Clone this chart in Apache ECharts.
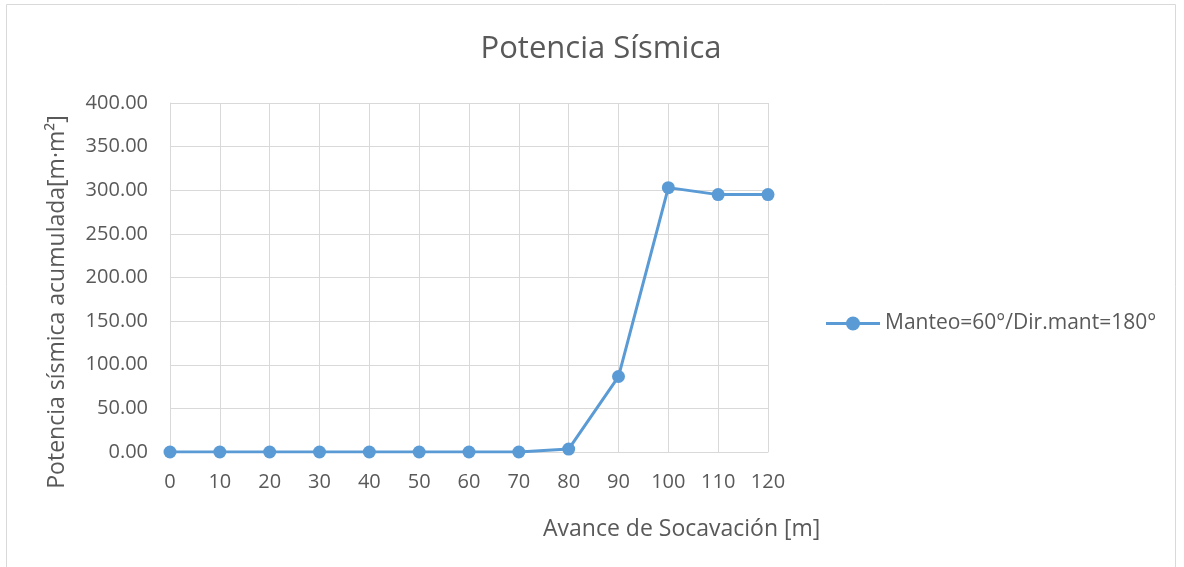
<!DOCTYPE html>
<html><head><meta charset="utf-8">
<script src="https://cdn.jsdelivr.net/npm/echarts@6/dist/echarts.min.js"></script>
<style>html,body{margin:0;padding:0;background:#fff}#c{width:1184px;height:567px}</style>
</head><body><div id="c"></div>
<script>
const categories = ['0','10','20','30','40','50','60','70','80','90','100','110','120'];
const seriesName = 'Manteo=60°/Dir.mant=180°';
const values = [0, 0, 0, 0, 0, 0, 0, 0, 3.4, 86.5, 303, 295, 295];
const yMin = 0, yMax = 400, yStep = 50;
const titleText = 'Potencia Sísmica';
const xTitle = 'Avance de Socavación [m]';
const yTitle = 'Potencia sísmica acumulada[m·m²]';

const FONT = '"Open Sans", "Noto Sans", sans-serif';
const TXT = '#595959';
const chart = echarts.init(document.getElementById('c'));
chart.setOption({
  animation: false,
  title: { text: titleText, left: 596, top: 29, textAlign: 'center',
    textStyle: { fontFamily: FONT, fontSize: 31, fontWeight: 'normal', color: TXT } },
  grid: { left: 170, right: 416, top: 103, bottom: 115, containLabel: false },
  legend: { data: [{ name: seriesName,
      icon: 'path://M0,5.5L21,5.5L21,8.5L0,8.5Z M33,5.5L54,5.5L54,8.5L33,8.5Z M20,7A7,7,0,1,1,34,7A7,7,0,1,1,20,7Z' }],
    orient: 'vertical', left: 821, top: 308,
    itemWidth: 54, itemHeight: 14, itemGap: 4,
    textStyle: { fontFamily: FONT, fontSize: 21, color: TXT } },
  xAxis: { type: 'category', data: categories, boundaryGap: false,
    axisLine: { lineStyle: { color: '#d9d9d9' } }, axisTick: { show: false },
    axisLabel: { fontFamily: FONT, fontSize: 20, color: TXT, margin: 20 },
    splitLine: { show: true, lineStyle: { color: '#d9d9d9', width: 1 } } },
  yAxis: { type: 'value', min: yMin, max: yMax, interval: yStep,
    axisLine: { show: true, lineStyle: { color: '#d9d9d9' } }, axisTick: { show: false },
    axisLabel: { fontFamily: FONT, fontSize: 20, color: TXT, margin: 22,
      formatter: v => v.toFixed(2) },
    splitLine: { lineStyle: { color: '#d9d9d9', width: 1 } } },
  graphic: [
    { type: 'rect', shape: { x: 6.5, y: 4.5, width: 1169, height: 600 },
      style: { fill: 'none', stroke: '#d9d9d9', lineWidth: 1 }, silent: true },
    { type: 'text', left: 543, top: 518,
      style: { text: xTitle, fontFamily: FONT, fontSize: 23, fill: TXT } },
    { type: 'text', x: 57, y: 302, rotation: Math.PI / 2,
      style: { text: yTitle, fontFamily: FONT, fontSize: 23, fill: TXT, align: 'center', verticalAlign: 'middle' } }
  ],
  series: [{ name: seriesName, type: 'line', data: values, symbol: 'circle', symbolSize: 13,
    lineStyle: { color: '#5b9bd5', width: 3 }, itemStyle: { color: '#5b9bd5' } }]
});
</script></body></html>
